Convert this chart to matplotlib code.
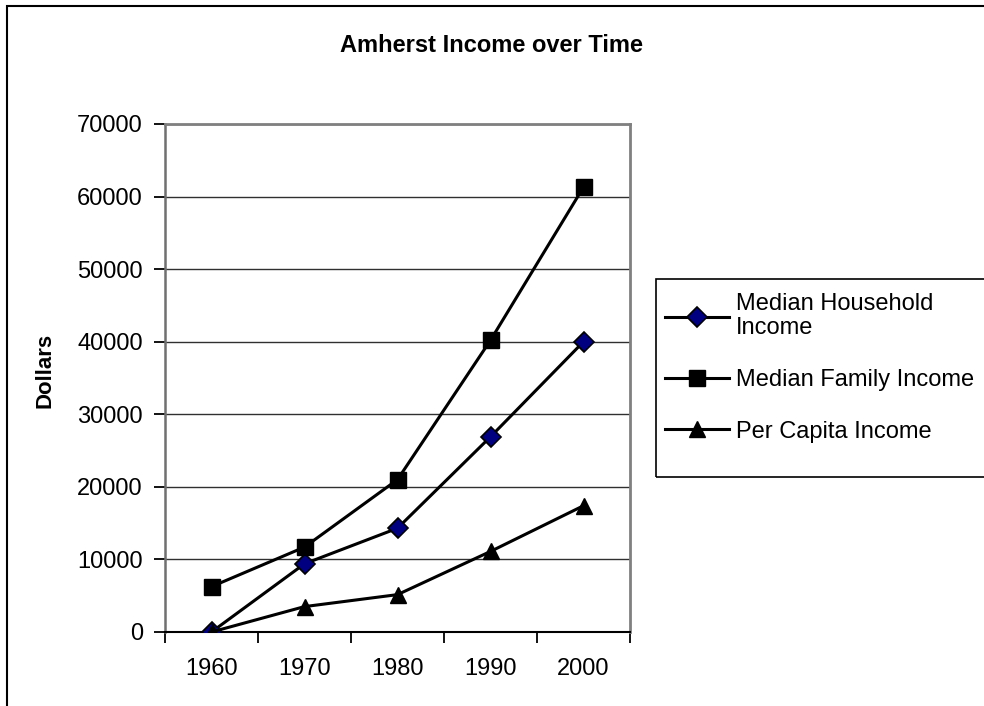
import matplotlib
matplotlib.use("Agg")
import matplotlib.pyplot as plt
from matplotlib.patches import Rectangle

plt.rcParams['font.family'] = ['Liberation Sans', 'DejaVu Sans']

years = ['1960', '1970', '1980', '1990', '2000']
household = [0, 9400, 14300, 26900, 40000]
family = [6250, 11700, 21000, 40200, 61300]
per_capita = [0, 3500, 5150, 11100, 17400]

fig = plt.figure(figsize=(9.84, 7.06), dpi=100)
ax = fig.add_axes([165 / 984, 1 - 632 / 706, 465 / 984, 508 / 706])

x = list(range(len(years)))
ax.plot(x, household, color='black', lw=2.2, marker='D', markersize=10,
        markerfacecolor='#000080', markeredgecolor='black', markeredgewidth=1.2,
        label='Median Household\nIncome', zorder=5)
ax.plot(x, family, color='black', lw=2.2, marker='s', markersize=11,
        markerfacecolor='black', markeredgecolor='black',
        label='Median Family Income', zorder=5)
ax.plot(x, per_capita, color='black', lw=2.2, marker='^', markersize=12,
        markerfacecolor='black', markeredgecolor='black',
        label='Per Capita Income', zorder=5)

ax.set_xlim(-0.5, len(years) - 0.5)
ax.set_ylim(0, 70000)
ax.set_yticks(range(0, 70001, 10000))
ax.set_xticks(x)
ax.set_xticklabels(years)
ax.set_xticks([i - 0.5 for i in range(len(years) + 1)], minor=True)
ax.tick_params(axis='x', which='major', length=0, pad=19, labelsize=17)
ax.tick_params(axis='x', which='minor', length=8, width=1.3, direction='out')
ax.tick_params(axis='y', length=8, width=1.3, direction='out', pad=8, labelsize=17)

ax.yaxis.grid(True, color='#303030', lw=1.0)
ax.set_axisbelow(True)
for side in ['top', 'right']:
    ax.spines[side].set_color('#808080')
    ax.spines[side].set_linewidth(2)
ax.spines['left'].set_color('#707070')
ax.spines['left'].set_linewidth(1.8)
ax.spines['bottom'].set_color('black')
ax.spines['bottom'].set_linewidth(1.5)

fig.text(0.5, 1 - 45 / 706, 'Amherst Income over Time', ha='center', va='center',
         fontsize=17, fontweight='bold')
fig.text(45 / 984, 1 - 370 / 706, 'Dollars', ha='center', va='center',
         rotation=90, fontsize=16, fontweight='bold')

# legend without its own frame; the box is drawn below so it can run off the edge
leg = fig.legend(loc='upper left', bbox_to_anchor=(656 / 984, 1 - 284 / 706),
                 fontsize=17, frameon=False, borderpad=0.4,
                 handlelength=2.7, handletextpad=0.3, labelspacing=1.25,
                 borderaxespad=0)
for t in leg.get_texts():
    t.set_linespacing(1.12)

fig.patches.append(Rectangle((656 / 984, 1 - 477 / 706), 0.5, 198 / 706,
                             transform=fig.transFigure, fill=False,
                             edgecolor='black', lw=1.2))

# outer chart border (runs off the right and bottom edges)
fig.patches.append(Rectangle((7 / 984, -0.1), 1.2, 1.1 - 6 / 706, transform=fig.transFigure,
                             fill=False, edgecolor='black', lw=1.5))

fig.savefig('out.png', dpi=100)
